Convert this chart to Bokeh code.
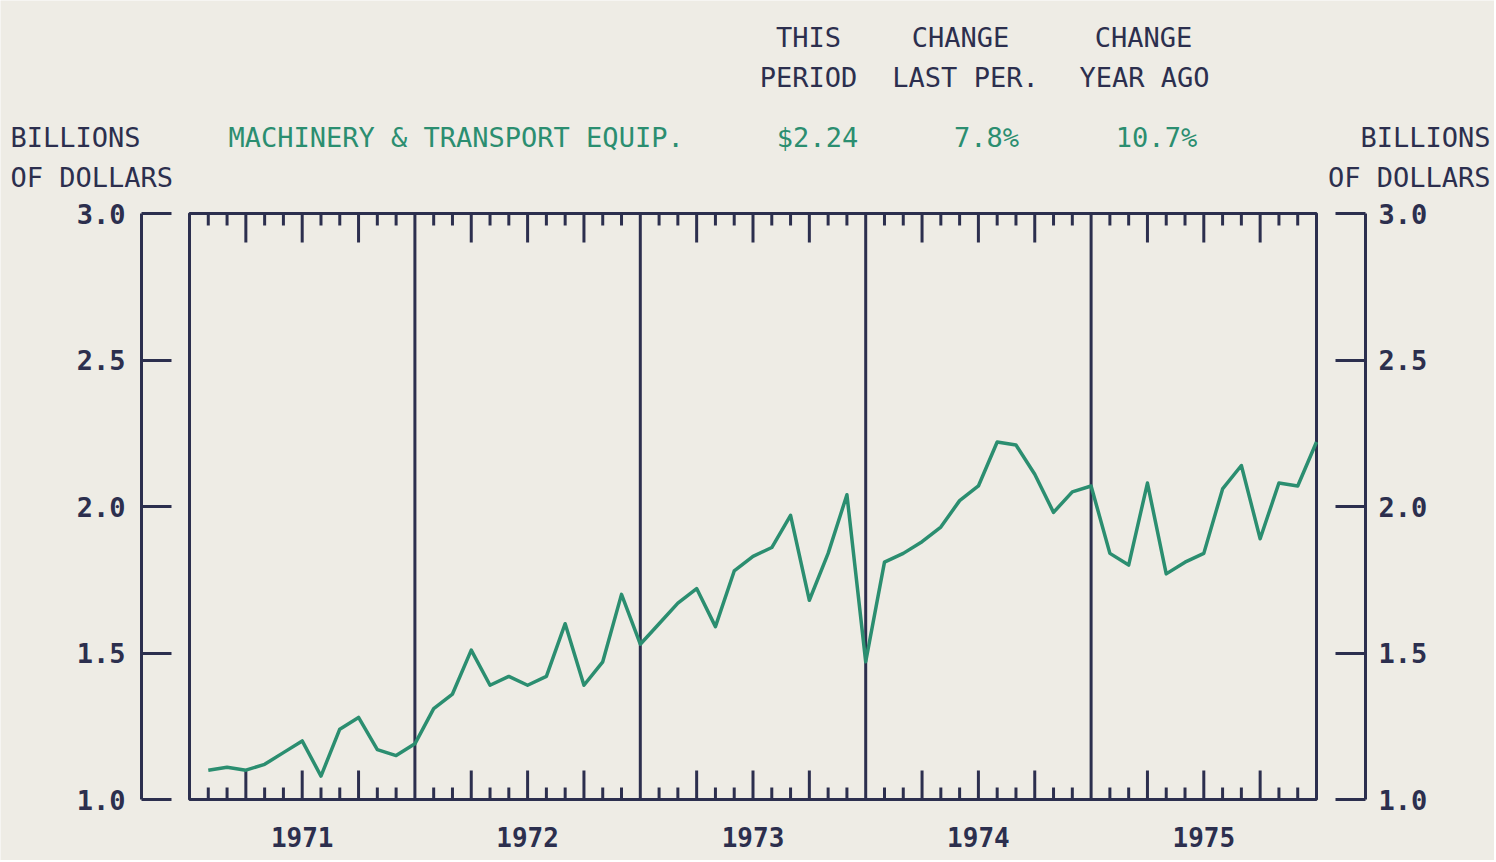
import numpy as np
from bokeh.plotting import figure
from bokeh.models import Range1d, LinearAxis, FixedTicker, Label, NumeralTickFormatter
from bokeh.embed import file_html
from bokeh.resources import INLINE

# ---------------- data ----------------
years = ["1971", "1972", "1973", "1974", "1975"]
v1971 = [1.10, 1.11, 1.10, 1.12, 1.16, 1.20, 1.08, 1.24, 1.28, 1.17, 1.15, 1.19]
v1972 = [1.31, 1.36, 1.51, 1.39, 1.42, 1.39, 1.42, 1.60, 1.39, 1.47, 1.70, 1.53]
v1973 = [1.60, 1.67, 1.72, 1.59, 1.78, 1.83, 1.86, 1.97, 1.68, 1.84, 2.04, 1.47]
v1974 = [1.81, 1.84, 1.88, 1.93, 2.02, 2.07, 2.22, 2.21, 2.11, 1.98, 2.05, 2.07]
v1975 = [1.84, 1.80, 2.08, 1.77, 1.81, 1.84, 2.06, 2.14, 1.89, 2.08, 2.07, 2.22]
y_ticks = [1.0, 1.5, 2.0, 2.5, 3.0]

series_name = "MACHINERY & TRANSPORT EQUIP."
unit_lines = ["BILLIONS", "OF DOLLARS"]
stat_head_1 = ["THIS", "CHANGE", "CHANGE"]
stat_head_2 = ["PERIOD", "LAST PER.", "YEAR AGO"]
stat_values = ["$2.24", "7.8%", "10.7%"]

# ---------------- styling ----------------
NAVY = "#2c2f4e"
GREEN = "#2b8e70"
PAPER = "#eeece5"
FONT = "DejaVu Sans Mono"
FS = "27px"

values = v1971 + v1972 + v1973 + v1974 + v1975
n = len(values)
per_year = n // len(years)
x = np.arange(1, n + 1)

W, H = 1494, 860
BOX_L, BOX_R = 189.0, 1316.0      # page px of month 0 / month n
AX_L, AX_R = 141.0, 1365.0        # page px of left / right axis lines
Y_TOP, Y_BOT = 213.0, 799.0       # page px of 3.0 / 1.0
PX_PER_M = (BOX_R - BOX_L) / n
PX_PER_U = (Y_BOT - Y_TOP) / (y_ticks[-1] - y_ticks[0])


def X(px):
    return (px - BOX_L) / PX_PER_M


def Y(py):
    return y_ticks[0] + (Y_BOT - py) / PX_PER_U


p = figure(width=W, height=H,
           x_range=Range1d(X(0), X(W)), y_range=Range1d(Y(H), Y(0)),
           x_axis_location=None, y_axis_location=None,
           toolbar_location=None, output_backend="svg",
           min_border=0, min_border_left=0, min_border_right=0,
           min_border_top=0, min_border_bottom=0)
p.xgrid.visible = False
p.ygrid.visible = False
p.outline_line_color = None
p.background_fill_color = PAPER
p.border_fill_color = PAPER


def yaxis(loc, standoff):
    ax = LinearAxis(ticker=FixedTicker(ticks=y_ticks),
                    formatter=NumeralTickFormatter(format="0.0"),
                    fixed_location=loc, bounds=(y_ticks[0], y_ticks[-1]))
    ax.major_tick_in = 30
    ax.major_tick_out = 0
    ax.minor_tick_in = 0
    ax.minor_tick_out = 0
    ax.axis_line_color = NAVY
    ax.axis_line_width = 3
    ax.major_tick_line_color = NAVY
    ax.major_tick_line_width = 3
    ax.major_label_standoff = standoff
    ax.major_label_text_font = FONT
    ax.major_label_text_font_style = "bold"
    ax.major_label_text_font_size = FS
    ax.major_label_text_color = NAVY
    return ax


p.add_layout(yaxis(X(AX_L), 16), "left")
p.add_layout(yaxis(X(AX_R), 13), "right")

# year labels on a bottom axis (ticks at mid-year, no tick marks)
mid = [per_year * i + per_year // 2 for i in range(len(years))]
xb = LinearAxis(ticker=FixedTicker(ticks=mid), fixed_location=y_ticks[0],
                major_label_overrides={m: yr for m, yr in zip(mid, years)})
xb.axis_line_color = None
xb.major_tick_in = 0
xb.major_tick_out = 0
xb.minor_tick_in = 0
xb.minor_tick_out = 0
xb.major_label_standoff = 27
xb.major_label_text_font = FONT
xb.major_label_text_font_style = "bold"
xb.major_label_text_font_size = "26px"
xb.major_label_text_color = NAVY
p.add_layout(xb, "below")

# frame box and year dividers
p.quad(left=[0], right=[n], bottom=[y_ticks[0]], top=[y_ticks[-1]],
       fill_color=None, line_color=NAVY, line_width=3)
div = [per_year * k for k in range(1, len(years))]
p.segment(x0=div, y0=[y_ticks[0]] * len(div), x1=div, y1=[y_ticks[-1]] * len(div),
          line_color=NAVY, line_width=3)

# month ticks (taller at quarter boundaries) at top and bottom of the box
tm = [m for m in range(1, n) if m % per_year != 0]
tl = [(29 if m % 3 == 0 else 12) / PX_PER_U for m in tm]
p.segment(x0=tm, y0=[y_ticks[-1]] * len(tm), x1=tm, y1=[y_ticks[-1] - l for l in tl],
          line_color=NAVY, line_width=3)
p.segment(x0=tm, y0=[y_ticks[0]] * len(tm), x1=tm, y1=[y_ticks[0] + l for l in tl],
          line_color=NAVY, line_width=3)

# data line
p.line(x, values, line_color=GREEN, line_width=3.5, line_join="round")


def label(px, py, text, color=NAVY, align="left"):
    p.add_layout(Label(x=X(px), y=Y(py), text=text, text_color=color,
                       text_font=FONT, text_font_size=FS,
                       text_align=align, text_baseline="alphabetic"))


label(10, 137, unit_lines[0])
label(10, 177, unit_lines[1])
label(1490, 137, unit_lines[0], align="right")
label(1490, 177, unit_lines[1], align="right")
label(228, 137, series_name, color=GREEN)

head_cx = [808, 960, 1143]
head2_dx = [0, 5, 1]
val_cx = [817, 986, 1156]
for cx, dx, h1, h2 in zip(head_cx, head2_dx, stat_head_1, stat_head_2):
    label(cx, 37, h1, align="center")
    label(cx + dx, 77, h2, align="center")
for cx, v in zip(val_cx, stat_values):
    label(cx, 137, v, color=GREEN, align="center")

html = file_html(p, INLINE)
html = html.replace("<body>", '<body style="background:%s">' % PAPER, 1)
open("out.html", "w").write(html)
